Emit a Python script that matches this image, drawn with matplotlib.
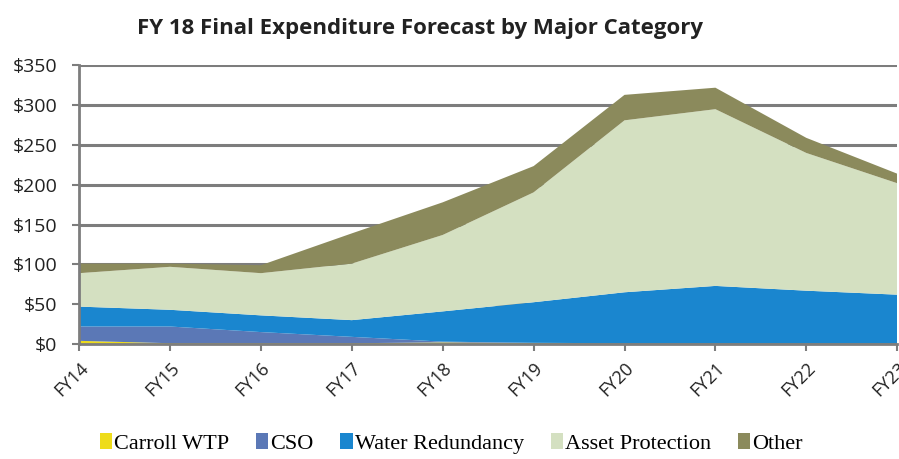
import matplotlib
matplotlib.use("Agg")
import matplotlib.pyplot as plt
import numpy as np
from matplotlib.patches import Patch

years = ["FY14", "FY15", "FY16", "FY17", "FY18", "FY19", "FY20", "FY21", "FY22", "FY23"]
carroll_wtp = [4, 1, 1, 1, 2, 1, 0.5, 0.5, 0.5, 0.5]
cso = [18, 21, 14, 8, 1, 0.5, 0.5, 0.5, 0.5, 0.5]
water_redundancy = [25, 21, 21, 21, 38, 51, 64, 72, 66, 61]
asset_protection = [42, 54, 53, 71, 96, 138, 216, 222, 173, 140]
other = [12, 4, 10, 38, 41, 33, 32, 27, 19, 12]

series_names = ["Carroll WTP", "CSO", "Water Redundancy", "Asset Protection", "Other"]
colors = ["#EEDC1A", "#5B78B6", "#1A86CF", "#D4E0C1", "#8B8A5C"]

fig = plt.figure(figsize=(8.99, 4.59), dpi=100)
ax = fig.add_axes([0.088, 0.2505, 0.910, 0.607])

x = np.arange(len(years))
ax.stackplot(x, carroll_wtp, cso, water_redundancy, asset_protection, other,
             colors=colors, linewidth=0, zorder=2)

ax.set_xlim(0, len(years) - 1)
ax.set_ylim(0, 350)
ax.set_yticks(np.arange(0, 351, 50))
ax.set_yticklabels([f"${v}" for v in range(0, 351, 50)],
                   fontsize=14, family="Open Sans", color="#222222")
ax.yaxis.grid(True, color="#7d7d7d", linewidth=2.2, zorder=0)
ax.set_axisbelow(True)
ax.tick_params(axis="y", length=5, width=1.5, color="#7d7d7d", pad=10.5)

ax.set_xticks(x)
ax.set_xticklabels(years, rotation=45, ha="right", va="top",
                   rotation_mode="anchor",
                   fontsize=13, family="Open Sans", color="#222222")
ax.tick_params(axis="x", length=5, width=1.5, color="#7d7d7d", pad=6)

for side in ["top", "right"]:
    ax.spines[side].set_visible(False)
ax.spines["left"].set_color("#7d7d7d")
ax.spines["left"].set_linewidth(2)
ax.spines["bottom"].set_color("#7d7d7d")
ax.spines["bottom"].set_linewidth(2)
ax.spines["bottom"].set_zorder(3)

fig.text(0.467, 0.937, "FY 18 Final Expenditure Forecast by Major Category",
         ha="center", va="center", fontsize=16, fontweight="bold",
         family="Open Sans", color="#222222")

handles = [Patch(facecolor=c, edgecolor="none") for c in colors]
fig.legend(handles, series_names, loc="center", bbox_to_anchor=(0.502, 0.034),
           ncol=5, frameon=False, handlelength=0.55, handleheight=0.7,
           handletextpad=0.1, columnspacing=1.2,
           prop={"family": "Liberation Serif", "size": 16})

fig.savefig("out.png", dpi=100)
